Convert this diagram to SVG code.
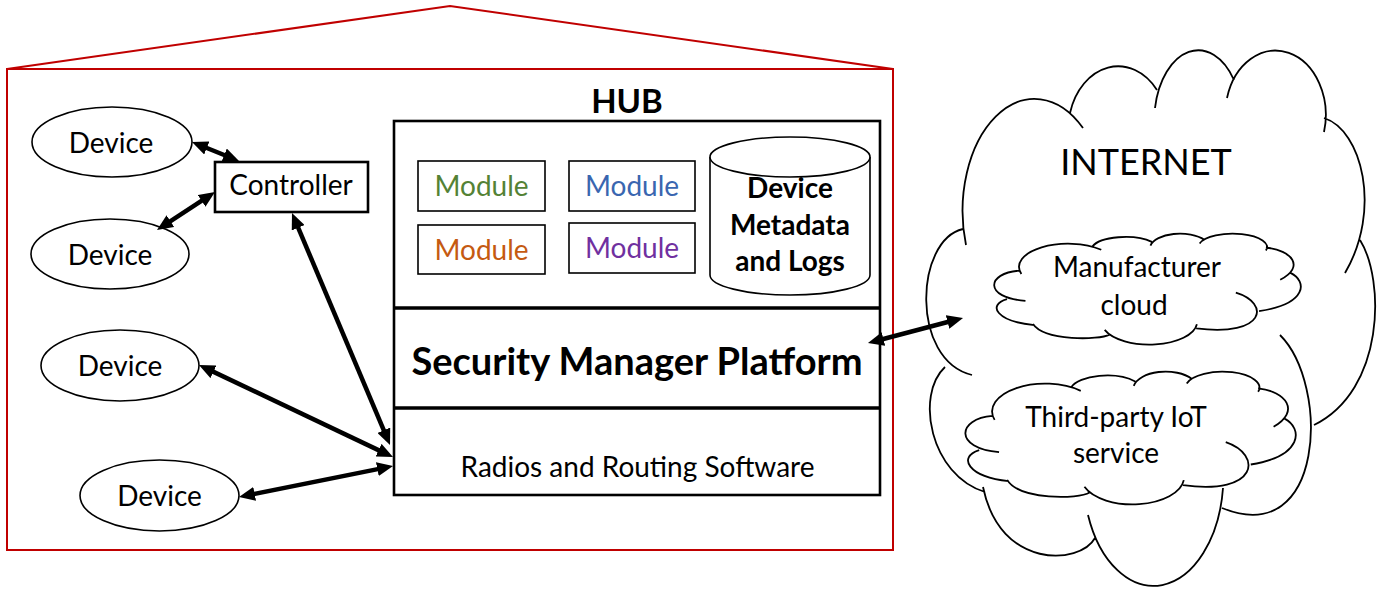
<svg xmlns="http://www.w3.org/2000/svg" width="1387" height="591" viewBox="0 0 1387 591">
<style>
text{font-family:Lato,"Open Sans","Liberation Sans",sans-serif;fill:#000;text-anchor:middle}
.t{font-size:28px}
.b{font-weight:bold}
.house{fill:none;stroke:#C00000;stroke-width:2}
.box{fill:#fff;stroke:#000;stroke-width:2.6}
.mod{fill:#fff;stroke:#000;stroke-width:1.6}
.ell{fill:#fff;stroke:#000;stroke-width:1.6}
.conn{stroke:#000;stroke-width:4.5;fill:none;marker-start:url(#ah);marker-end:url(#ah)}
</style>
<defs>
<marker id="ah" markerUnits="userSpaceOnUse" viewBox="0 0 16 14" markerWidth="16" markerHeight="14" refX="8" refY="7" orient="auto-start-reverse">
<path d="M0,0 L16,7 L0,14 z" fill="#000"/>
</marker>
<path id="cloud" fill="none" stroke="#000" stroke-width="1.8" vector-effect="non-scaling-stroke" d="M43,193 A72,112 0 0 1 160,76 M147,61 A50,64 0 0 1 234,38 M232,56 A44,71 0 0 1 311,28 M304,46 A50,64 0 0 1 401,80 M401,66 C439,78 459,158 422,221 M437,188 C462,228 462,338 391,373 M357,283 C407,333 402,498 299,456 M300,436 A70,110 0 0 1 165,463 M172,486 C157,513 77,518 60,435 M62,440 C7,423 -8,343 22,315 M40,177 C-8,188 -13,308 49,323"/>
</defs>

<g id="house">
<polyline class="house" points="7,69 450,6 893,69"/>
<rect class="house" x="7" y="69" width="886" height="481"/>
</g>

<g id="internet">
<use href="#cloud" transform="translate(923,52)"/>
<text x="1146" y="175" style="font-size:36px">INTERNET</text>
</g>
<g id="manufacturer-cloud">
<use href="#cloud" transform="translate(992,234) scale(0.683,0.207)"/>
<text class="t" x="1137" y="277">Manufacturer</text>
<text class="t" x="1134" y="315">cloud</text>
</g>
<g id="third-party">
<use href="#cloud" transform="translate(963,372) scale(0.736,0.248)"/>
<text class="t" x="1116" y="427">Third-party IoT</text>
<text class="t" x="1116" y="463">service</text>
</g>

<g id="device1"><ellipse class="ell" cx="112" cy="142" rx="80" ry="35"/><text class="t" x="111" y="153">Device</text></g>
<g id="device2"><ellipse class="ell" cx="110" cy="254" rx="79" ry="35"/><text class="t" x="110" y="265">Device</text></g>
<g id="device3"><ellipse class="ell" cx="120" cy="365.5" rx="79" ry="35.5"/><text class="t" x="120" y="376">Device</text></g>
<g id="device4"><ellipse class="ell" cx="159.5" cy="495.5" rx="79.5" ry="35.5"/><text class="t" x="159.5" y="506">Device</text></g>

<g id="controller"><rect class="box" x="215" y="162" width="153" height="50"/><text class="t" x="291" y="195">Controller</text></g>

<g id="hub">
<text class="b" x="627" y="113" style="font-size:33px">HUB</text>
<rect class="box" x="394" y="121" width="486" height="374"/>
<line x1="394" y1="308" x2="880" y2="308" stroke="#000" stroke-width="3.5"/>
<line x1="394" y1="408" x2="880" y2="408" stroke="#000" stroke-width="3.5"/>
</g>
<g id="module1"><rect class="mod" x="418" y="161" width="127" height="50"/><text class="t" x="481.5" y="196" style="fill:#548235">Module</text></g>
<g id="module2"><rect class="mod" x="569" y="161" width="126" height="50"/><text class="t" x="632" y="196" style="fill:#3A66B0">Module</text></g>
<g id="module3"><rect class="mod" x="418" y="225" width="127" height="49"/><text class="t" x="481.5" y="260" style="fill:#C55A11">Module</text></g>
<g id="module4"><rect class="mod" x="569" y="223" width="126" height="50"/><text class="t" x="632" y="258" style="fill:#7030A0">Module</text></g>
<g id="metadata">
<path class="ell" d="M710,157 L710,275 A80,20 0 0 0 870,275 L870,157"/>
<ellipse class="ell" cx="790" cy="157" rx="80" ry="20"/>
<text class="t b" x="790" y="198">Device</text>
<text class="t b" x="790" y="235">Metadata</text>
<text class="t b" x="790" y="271">and Logs</text>
</g>
<g id="security-manager"><text class="b" x="637" y="375" style="font-size:38px">Security Manager Platform</text></g>
<g id="radios"><text class="t" x="637.5" y="477">Radios and Routing Software</text></g>

<g id="connectors">
<line class="conn" x1="199.4" y1="145" x2="231.6" y2="158"/>
<line class="conn" x1="163.7" y1="225.6" x2="208.3" y2="196.4"/>
<line class="conn" x1="295.1" y1="220.4" x2="386.9" y2="437.6"/>
<line class="conn" x1="206.2" y1="368.4" x2="385.8" y2="453.6"/>
<line class="conn" x1="246.8" y1="495.4" x2="385.2" y2="467.6"/>
<line class="conn" x1="875.7" y1="341" x2="955.3" y2="320"/>
</g>
</svg>
